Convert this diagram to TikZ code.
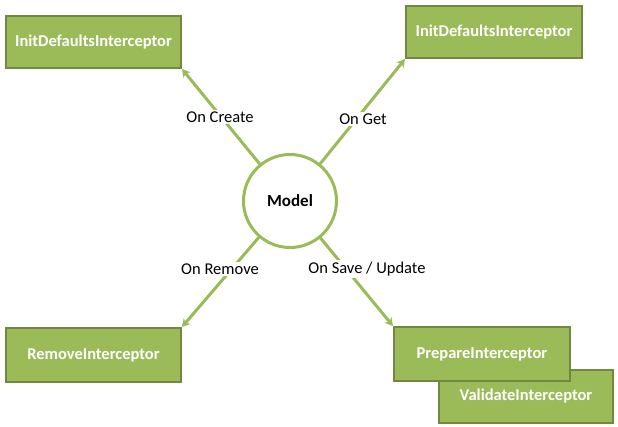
\documentclass[tikz,border=0pt]{standalone}
\usepackage{fontspec}
\setmainfont{Carlito}
\usetikzlibrary{arrows.meta}
\definecolor{boxfill}{HTML}{9BBB59}
\definecolor{boxline}{HTML}{71893F}
\tikzset{
  ibox/.style={draw=boxline, line width=2pt, fill=boxfill, text=white, font=\fontsize{16.5}{19}\selectfont\bfseries, inner sep=0pt, anchor=north west},
  conn/.style={draw=boxfill, line width=3pt, -{Stealth[length=8pt,width=9pt]}},
  lbl/.style={fill=white, inner sep=2pt, font=\fontsize{16.5}{19}\selectfont}
}
\begin{document}
\begin{tikzpicture}[x=1pt,y=-1pt]
\useasboundingbox (0,0) rectangle (618,426);
\fill[white] (0,0) rectangle (618,426);
\node[ibox, minimum width=175pt, minimum height=52pt] (b1) at (5,15) {InitDefaultsInterceptor};
\node[ibox, minimum width=176pt, minimum height=52pt] (b2) at (405,5) {InitDefaultsInterceptor};
\node[ibox, minimum width=175pt, minimum height=54pt] (b3) at (5,327) {RemoveInterceptor};
\node[ibox, minimum width=174pt, minimum height=53pt] (b5) at (438,369) {ValidateInterceptor};
\node[ibox, minimum width=176pt, minimum height=54pt] (b4) at (393,326) {PrepareInterceptor};
\node[circle, draw=boxfill, line width=3pt, fill=white, minimum size=93pt, inner sep=0pt, font=\fontsize{17}{19}\selectfont\bfseries] (model) at (290,201) {Model};
\draw[conn] (model) -- (b1.south east);
\draw[conn] (model) -- (b2.south west);
\draw[conn] (model) -- (b3.north east);
\draw[conn] (model) -- (b4.north west);
\node[lbl] (l1) at (220,117) {On Create};
\node[lbl] (l2) at (363,119) {On Get};
\node[lbl] (l3) at (220,269) {On Remove};
\node[lbl] (l4) at (367,269) {On Save / Update};
\end{tikzpicture}
\end{document}
